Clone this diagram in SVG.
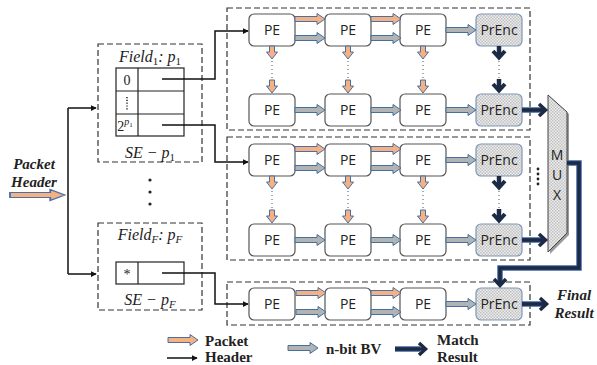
<svg xmlns="http://www.w3.org/2000/svg" xmlns:xlink="http://www.w3.org/1999/xlink" width="597" height="365" viewBox="0 0 597 365">
  <style>
    .dash { fill: none; stroke: #333; stroke-width: 1.2; stroke-dasharray: 6 3; }
    .pe { fill: #fff; stroke: #555; stroke-width: 1.2; }
    .enc { fill: url(#hatch); stroke: #7f98b8; stroke-width: 1.2; }
    .lbl { font-family: "Open Sans", "Liberation Sans", sans-serif; font-size: 14px; fill: #222; text-anchor: middle; }
    .math { font-family: "Liberation Serif", "DejaVu Serif", serif; font-style: italic; font-size: 16px; fill: #222; text-anchor: middle; }
    .up { font-style: normal; }
    .cell { font-family: "Liberation Serif", "DejaVu Serif", serif; font-size: 14px; fill: #222; text-anchor: middle; }
    .bi { font-family: "Liberation Serif", "DejaVu Serif", serif; font-style: italic; font-weight: bold; font-size: 15px; fill: #222; text-anchor: middle; }
    .leg { font-family: "Liberation Serif", "DejaVu Serif", serif; font-weight: bold; font-size: 15px; fill: #222; }
    .or { fill: #f4b183; stroke: #4a6fa5; stroke-width: 1; }
    .gr { fill: #b3b3b3; stroke: #41719c; stroke-width: 1; }
    .wire { fill: none; stroke: #111; stroke-width: 1.5; }
    .dot { fill: none; stroke: #555; stroke-width: 1; stroke-dasharray: 1 3; }
    .navyo { fill: none; stroke: #3d64a0; stroke-width: 5.5; }
    .navy { fill: none; stroke: #1c2a46; stroke-width: 3.5; }
    .chev { fill: none; stroke: #1c2a46; stroke-width: 3.5; stroke-linejoin: miter; stroke-linecap: butt; }
  </style>
  <defs>
    <pattern id="hatch" width="3" height="3" patternUnits="userSpaceOnUse">
      <rect width="3" height="3" fill="#ececec"/>
      <rect width="1.5" height="1.5" fill="#c2c2c2"/>
      <rect x="1.5" y="1.5" width="1.5" height="1.5" fill="#c2c2c2"/>
    </pattern>
    <marker id="tip" viewBox="0 0 8 8" refX="7" refY="4" markerWidth="6" markerHeight="6" orient="auto" markerUnits="userSpaceOnUse">
      <path d="M0,0 L8,4 L0,8 Z" fill="#111"/>
    </marker>
    <!-- block arrows: horizontal (length 30) and vertical (length 13) -->
    <path id="ha" d="M0,-2.5 H22 V-5.5 L30,0 L22,5.5 V2.5 H0 Z"/>
    <path id="va" d="M-2.5,0 V6 H-5.5 L0,13 L5.5,6 H2.5 V0 Z"/>
    <!-- thick down arrow used between encoders -->
    <g id="dk">
      <path d="M0,0 V11" fill="none" stroke="#1c2a46" stroke-width="4.5"/>
      <path d="M-6,5 L0,11.5 L6,5" fill="none" stroke="#1c2a46" stroke-width="4"/>
    </g>
  </defs>

  <!-- stage boxes -->
  <g id="stage1"><rect class="dash" x="227" y="8" width="303" height="122"/></g>
  <g id="stage2"><rect class="dash" x="227" y="137" width="303" height="123"/></g>
  <g id="stage3"><rect class="dash" x="227" y="282" width="303" height="43"/></g>

  <!-- search engines -->
  <g id="se1">
    <rect class="dash" x="98" y="44" width="104" height="118"/>
    <text class="math" x="150" y="62">Field<tspan class="up" font-size="11" dy="3">1</tspan><tspan dy="-3">: p</tspan><tspan class="up" font-size="11" dy="3">1</tspan></text>
    <rect x="116" y="68" width="68" height="68" fill="#fff" stroke="#222" stroke-width="1.2"/>
    <path d="M116,91 H184 M116,114 H184 M138,68 V136" stroke="#222" stroke-width="1.2" fill="none"/>
    <text class="cell" x="127" y="85">0</text>
    <path d="M127,97 V110" stroke="#222" stroke-width="1.5" stroke-dasharray="1.2 1.6"/>
    <text class="cell" x="125" y="131">2<tspan font-size="10" font-style="italic" dy="-6">p</tspan><tspan font-size="7" dy="2">1</tspan></text>
    <text class="math" x="150" y="158">SE − p<tspan class="up" font-size="11" dy="3">1</tspan></text>
  </g>
  <g id="seF">
    <rect class="dash" x="98" y="223" width="104" height="87"/>
    <text class="math" x="150" y="240">Field<tspan font-size="11" dy="3">F</tspan><tspan dy="-3">: p</tspan><tspan font-size="11" dy="3">F</tspan></text>
    <rect x="116" y="262" width="68" height="22" fill="#fff" stroke="#222" stroke-width="1.2"/>
    <path d="M138,262 V284" stroke="#222" stroke-width="1.2"/>
    <text class="cell" x="127" y="279">*</text>
    <text class="math" x="150" y="305">SE − p<tspan font-size="11" dy="3">F</tspan></text>
  </g>
  <g id="se-dots" fill="#222">
    <circle cx="150" cy="180" r="1.6"/>
    <circle cx="150" cy="192" r="1.6"/>
    <circle cx="150" cy="204" r="1.6"/>
  </g>

  <!-- processing elements -->
  <g id="pe-1-1"><rect class="pe" x="249" y="14" width="46" height="32" rx="5"/><text class="lbl" x="272" y="35">PE</text></g>
  <g id="pe-1-2"><rect class="pe" x="325" y="14" width="46" height="32" rx="5"/><text class="lbl" x="348" y="35">PE</text></g>
  <g id="pe-1-3"><rect class="pe" x="400" y="14" width="46" height="32" rx="5"/><text class="lbl" x="423" y="35">PE</text></g>
  <g id="enc-1-1"><rect class="enc" x="476" y="14" width="46" height="32" rx="5"/><text class="lbl" x="499" y="35">PrEnc</text></g>
  <g id="pe-2-1"><rect class="pe" x="249" y="94" width="46" height="32" rx="5"/><text class="lbl" x="272" y="115">PE</text></g>
  <g id="pe-2-2"><rect class="pe" x="325" y="94" width="46" height="32" rx="5"/><text class="lbl" x="348" y="115">PE</text></g>
  <g id="pe-2-3"><rect class="pe" x="400" y="94" width="46" height="32" rx="5"/><text class="lbl" x="423" y="115">PE</text></g>
  <g id="enc-2-1"><rect class="enc" x="476" y="94" width="46" height="32" rx="5"/><text class="lbl" x="499" y="115">PrEnc</text></g>

  <g id="pe-3-1"><rect class="pe" x="249" y="144" width="46" height="32" rx="5"/><text class="lbl" x="272" y="165">PE</text></g>
  <g id="pe-3-2"><rect class="pe" x="325" y="144" width="46" height="32" rx="5"/><text class="lbl" x="348" y="165">PE</text></g>
  <g id="pe-3-3"><rect class="pe" x="400" y="144" width="46" height="32" rx="5"/><text class="lbl" x="423" y="165">PE</text></g>
  <g id="enc-3-1"><rect class="enc" x="476" y="144" width="46" height="32" rx="5"/><text class="lbl" x="499" y="165">PrEnc</text></g>
  <g id="pe-4-1"><rect class="pe" x="249" y="224" width="46" height="32" rx="5"/><text class="lbl" x="272" y="245">PE</text></g>
  <g id="pe-4-2"><rect class="pe" x="325" y="224" width="46" height="32" rx="5"/><text class="lbl" x="348" y="245">PE</text></g>
  <g id="pe-4-3"><rect class="pe" x="400" y="224" width="46" height="32" rx="5"/><text class="lbl" x="423" y="245">PE</text></g>
  <g id="enc-4-1"><rect class="enc" x="476" y="224" width="46" height="32" rx="5"/><text class="lbl" x="499" y="245">PrEnc</text></g>

  <g id="pe-5-1"><rect class="pe" x="249" y="288" width="46" height="32" rx="5"/><text class="lbl" x="272" y="309">PE</text></g>
  <g id="pe-5-2"><rect class="pe" x="325" y="288" width="46" height="32" rx="5"/><text class="lbl" x="348" y="309">PE</text></g>
  <g id="pe-5-3"><rect class="pe" x="400" y="288" width="46" height="32" rx="5"/><text class="lbl" x="423" y="309">PE</text></g>
  <g id="enc-5-1"><rect class="enc" x="476" y="288" width="46" height="32" rx="5"/><text class="lbl" x="499" y="309">PrEnc</text></g>

  <!-- multiplexer -->
  <g id="mux">
    <path d="M550,97 L569,114 L569,235 L550,254 Z" fill="#9a9a9a"/>
    <path d="M548,95 L567,112 L567,233 L548,252 Z" fill="url(#hatch)" stroke="#444" stroke-width="1"/>
    <text class="lbl" x="557" y="160" font-size="15">M</text>
    <text class="lbl" x="557" y="180" font-size="15">U</text>
    <text class="lbl" x="557" y="200" font-size="15">X</text>
  </g>
  <g id="mux-dots" fill="#222">
    <circle cx="538" cy="169" r="1.4"/>
    <circle cx="538" cy="174" r="1.4"/>
    <circle cx="538" cy="179" r="1.4"/>
    <circle cx="538" cy="184" r="1.4"/>
  </g>

  <!-- labels -->
  <g id="packet-header">
    <text class="bi" x="34" y="169">Packet</text>
    <text class="bi" x="34" y="187">Header</text>
    <use href="#ha" class="or" transform="translate(10,195) scale(1.83,1)"/>
  </g>
  <g id="final-result">
    <text class="bi" x="574" y="300">Final</text>
    <text class="bi" x="574" y="318">Result</text>
  </g>

  <g id="connectors">
    <!-- packet header fan-out -->
    <path class="wire" d="M68,108 V274"/>
    <path class="wire" d="M68,108 H96" marker-end="url(#tip)"/>
    <path class="wire" d="M68,274 H96" marker-end="url(#tip)"/>
    <!-- table entries to stage inputs -->
    <path class="wire" d="M162,79 H215 V31 H248" marker-end="url(#tip)"/>
    <path class="wire" d="M162,125 H215 V162 H248" marker-end="url(#tip)"/>
    <path class="wire" d="M162,273 H215 V304 H248" marker-end="url(#tip)"/>

    <!-- horizontal packet header / BV arrows -->
    <use href="#ha" class="or" x="295" y="19"/>
    <use href="#ha" class="gr" x="295" y="38"/>
    <use href="#ha" class="or" x="371" y="19"/>
    <use href="#ha" class="gr" x="371" y="38"/>
    <use href="#ha" class="gr" x="446" y="30"/>
    <use href="#ha" class="gr" x="295" y="110"/>
    <use href="#ha" class="gr" x="371" y="110"/>
    <use href="#ha" class="gr" x="446" y="110"/>

    <use href="#ha" class="or" x="295" y="149"/>
    <use href="#ha" class="gr" x="295" y="168"/>
    <use href="#ha" class="or" x="371" y="149"/>
    <use href="#ha" class="gr" x="371" y="168"/>
    <use href="#ha" class="gr" x="446" y="160"/>
    <use href="#ha" class="gr" x="295" y="240"/>
    <use href="#ha" class="gr" x="371" y="240"/>
    <use href="#ha" class="gr" x="446" y="240"/>

    <use href="#ha" class="or" x="296" y="293"/>
    <use href="#ha" class="gr" x="296" y="312"/>
    <use href="#ha" class="or" x="371" y="293"/>
    <use href="#ha" class="gr" x="371" y="312"/>
    <use href="#ha" class="gr" x="446" y="304"/>

    <!-- vertical packet header arrows with elided stages -->
    <use href="#va" class="or" x="272" y="46"/>
    <use href="#va" class="or" x="272" y="80"/>
    <use href="#va" class="or" x="348" y="46"/>
    <use href="#va" class="or" x="348" y="80"/>
    <use href="#va" class="or" x="423" y="46"/>
    <use href="#va" class="or" x="423" y="80"/>
    <use href="#va" class="or" x="272" y="176"/>
    <use href="#va" class="or" x="272" y="210"/>
    <use href="#va" class="or" x="348" y="176"/>
    <use href="#va" class="or" x="348" y="210"/>
    <use href="#va" class="or" x="423" y="176"/>
    <use href="#va" class="or" x="423" y="210"/>
    <path class="dot" d="M272,61 V79 M348,61 V79 M423,61 V79 M499,61 V78 M272,191 V209 M348,191 V209 M423,191 V209 M499,191 V208"/>

    <!-- match result arrows -->
    <use href="#dk" x="499" y="46"/>
    <use href="#dk" x="499" y="79"/>
    <use href="#dk" x="499" y="176"/>
    <use href="#dk" x="499" y="209"/>

    <path class="navyo" d="M522,110 H543"/>
    <path class="navy" d="M522,110 H545"/>
    <path class="chev" d="M539,104 L545.5,110 L539,116"/>
    <path class="navyo" d="M522,240 H543"/>
    <path class="navy" d="M522,240 H545"/>
    <path class="chev" d="M539,234 L545.5,240 L539,246"/>

    <path class="navyo" d="M567,163 H579 V268 H500 V282"/>
    <path class="navy" d="M567,163 H579 V268 H500 V285"/>
    <path class="chev" d="M494,279 L500,285.5 L506,279"/>

    <path class="navyo" d="M522,304 H543"/>
    <path class="navy" d="M522,304 H546"/>
    <path class="chev" d="M540,298 L546.5,304 L540,310"/>
  </g>

  <!-- legend -->
  <g id="legend">
    <use href="#ha" class="or" x="168" y="340"/>
    <text class="leg" x="205" y="346">Packet</text>
    <path class="wire" d="M167,358 H197" marker-end="url(#tip)"/>
    <text class="leg" x="205" y="362">Header</text>
    <use href="#ha" class="gr" x="288" y="348"/>
    <text class="leg" x="326" y="354">n-bit BV</text>
    <path class="navyo" d="M395,349 H420"/>
    <path class="navy" d="M395,349 H425"/>
    <path class="chev" d="M419,343 L425.5,349 L419,355"/>
    <text class="leg" x="437" y="345">Match</text>
    <text class="leg" x="437" y="362">Result</text>
  </g>
</svg>
